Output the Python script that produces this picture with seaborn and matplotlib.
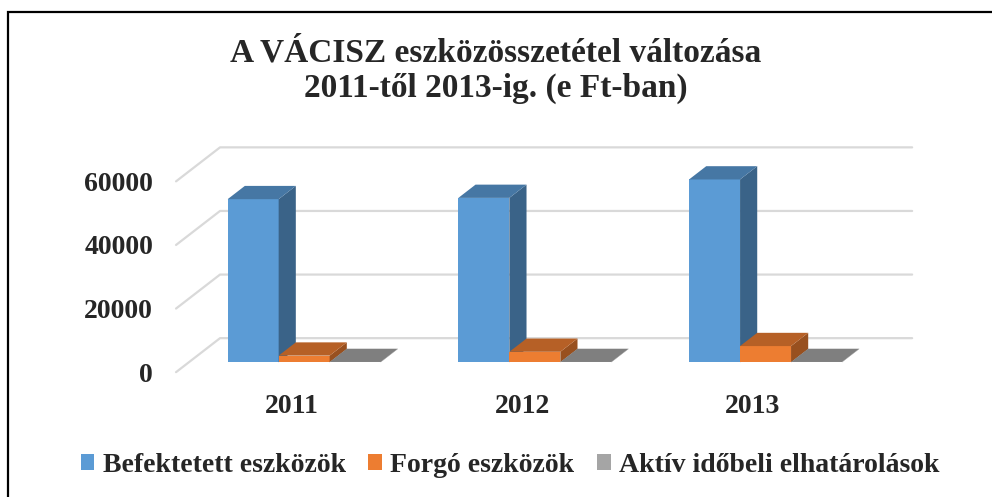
import numpy as np
import pandas as pd
import matplotlib
matplotlib.use("Agg")
import matplotlib.pyplot as plt
import matplotlib.transforms as mtransforms
from matplotlib.patches import Polygon, Rectangle
from matplotlib.lines import Line2D
import seaborn as sns

# chart data (e Ft)
years = ["2011", "2012", "2013"]
series = ["Befektetett eszközök", "Forgó eszközök", "Aktív időbeli elhatárolások"]
befektetett = [51300, 51700, 57500]
forgo = [2100, 3300, 5100]
aktiv = [100, 100, 100]
colors = ["#5B9BD5", "#ED7D31", "#A5A5A5"]
y_ticks = [0, 20000, 40000, 60000]

title_1 = "A VÁCISZ eszközösszetétel változása"
title_2 = "2011-től 2013-ig. (e Ft-ban)"

df = pd.DataFrame({
    "year": years * 3,
    "series": [s for s in series for _ in years],
    "value": befektetett + forgo + aktiv,
})

sns.set_style("white")
plt.rcParams["font.family"] = ["Liberation Serif", "DejaVu Serif"]
plt.rcParams["font.weight"] = "bold"

W, H = 992, 497
fig = plt.figure(figsize=(W / 100, H / 100), dpi=100)

# axes = plane of the bar front faces (pixel layout)
left_px, right_px = 188.8, 880.9
bottom_px, top_px = 362.3, 171.5
ax = fig.add_axes([left_px / W, (H - bottom_px) / H,
                   (right_px - left_px) / W, (bottom_px - top_px) / H])

sns.barplot(data=df, x="year", y="value", hue="series", hue_order=series,
            palette=colors, saturation=1, width=0.663, linewidth=0,
            ax=ax)
ax.set_xlim(-0.5, 2.5)
ax.set_ylim(0, 60000)
for s in ax.spines.values():
    s.set_visible(False)
ax.set_xlabel("")
ax.set_ylabel("")

# 3d look: depth vector of the floor, in pixels
depth = np.array([44.0, 34.0])
front_off = -0.29 * depth
back_off = 0.71 * depth
bar_off = 0.39 * depth

ident = mtransforms.IdentityTransform()

# perspective gridlines
for v in y_ticks:
    p = ax.transData.transform((-0.5, v))
    q = ax.transData.transform((2.5, v))
    pts = [p + front_off, p + back_off, q + back_off]
    xs, ys = zip(*pts)
    ax.add_line(Line2D(xs, ys, transform=ident, color="#D9D9D9", lw=1.6,
                       zorder=0.5, clip_on=False))

# side and top faces of bars
bars = [b for b in ax.patches if b.get_height() > 0]
bars.sort(key=lambda b: b.get_x())
for rank, b in enumerate(bars):
    x0, y0 = b.get_x(), b.get_y()
    x1, y1 = x0 + b.get_width(), y0 + b.get_height()
    fc = np.array(b.get_facecolor()[:3])
    z = 2 + rank
    b.set_zorder(z)
    bl = ax.transData.transform((x0, y0))
    br = ax.transData.transform((x1, y0))
    tl = ax.transData.transform((x0, y1))
    tr = ax.transData.transform((x1, y1))
    side = Polygon([br, tr, tr + bar_off, br + bar_off], closed=True,
                   transform=ident, facecolor=fc * 0.64, edgecolor="none",
                   zorder=z, clip_on=False)
    top = Polygon([tl, tr, tr + bar_off, tl + bar_off], closed=True,
                  transform=ident, facecolor=fc * 0.77, edgecolor="none",
                  zorder=z, clip_on=False)
    ax.add_patch(side)
    ax.add_patch(top)

# ticks, moved to the front edge of the floor
ax.set_yticks(y_ticks)
ax.set_yticklabels([str(t) for t in y_ticks])
ax.tick_params(axis="y", length=0, pad=23 * 0.72, labelsize=20)
ax.tick_params(axis="x", length=0, pad=22 * 0.72, labelsize=20)
shift = mtransforms.ScaledTranslation(front_off[0] / 100, front_off[1] / 100,
                                      fig.dpi_scale_trans)
for lab in ax.get_xticklabels() + ax.get_yticklabels():
    lab.set_transform(lab.get_transform() + shift)
    lab.set_fontweight("bold")

# legend
sns.move_legend(ax, "center", bbox_to_anchor=(510 / W, (H - 465) / H),
                bbox_transform=fig.transFigure, ncol=3, frameon=False,
                title=None, fontsize=20, handlelength=0.5, handleheight=0.5,
                handletextpad=0.3, columnspacing=0.8)
for t in ax.get_legend().get_texts():
    t.set_fontweight("bold")

# title
fig.text(496 / W, (H - 61) / H, title_1, ha="center", va="baseline",
         fontsize=24, fontweight="bold")
fig.text(496 / W, (H - 97) / H, title_2, ha="center", va="baseline",
         fontsize=24, fontweight="bold")

# chart frame
fig.add_artist(Rectangle((8 / W, -0.2), 1.2, (H - 12) / H + 0.2,
                         transform=fig.transFigure, fill=False,
                         edgecolor="black", lw=1.6))

fig.savefig("out.png", dpi=100)
